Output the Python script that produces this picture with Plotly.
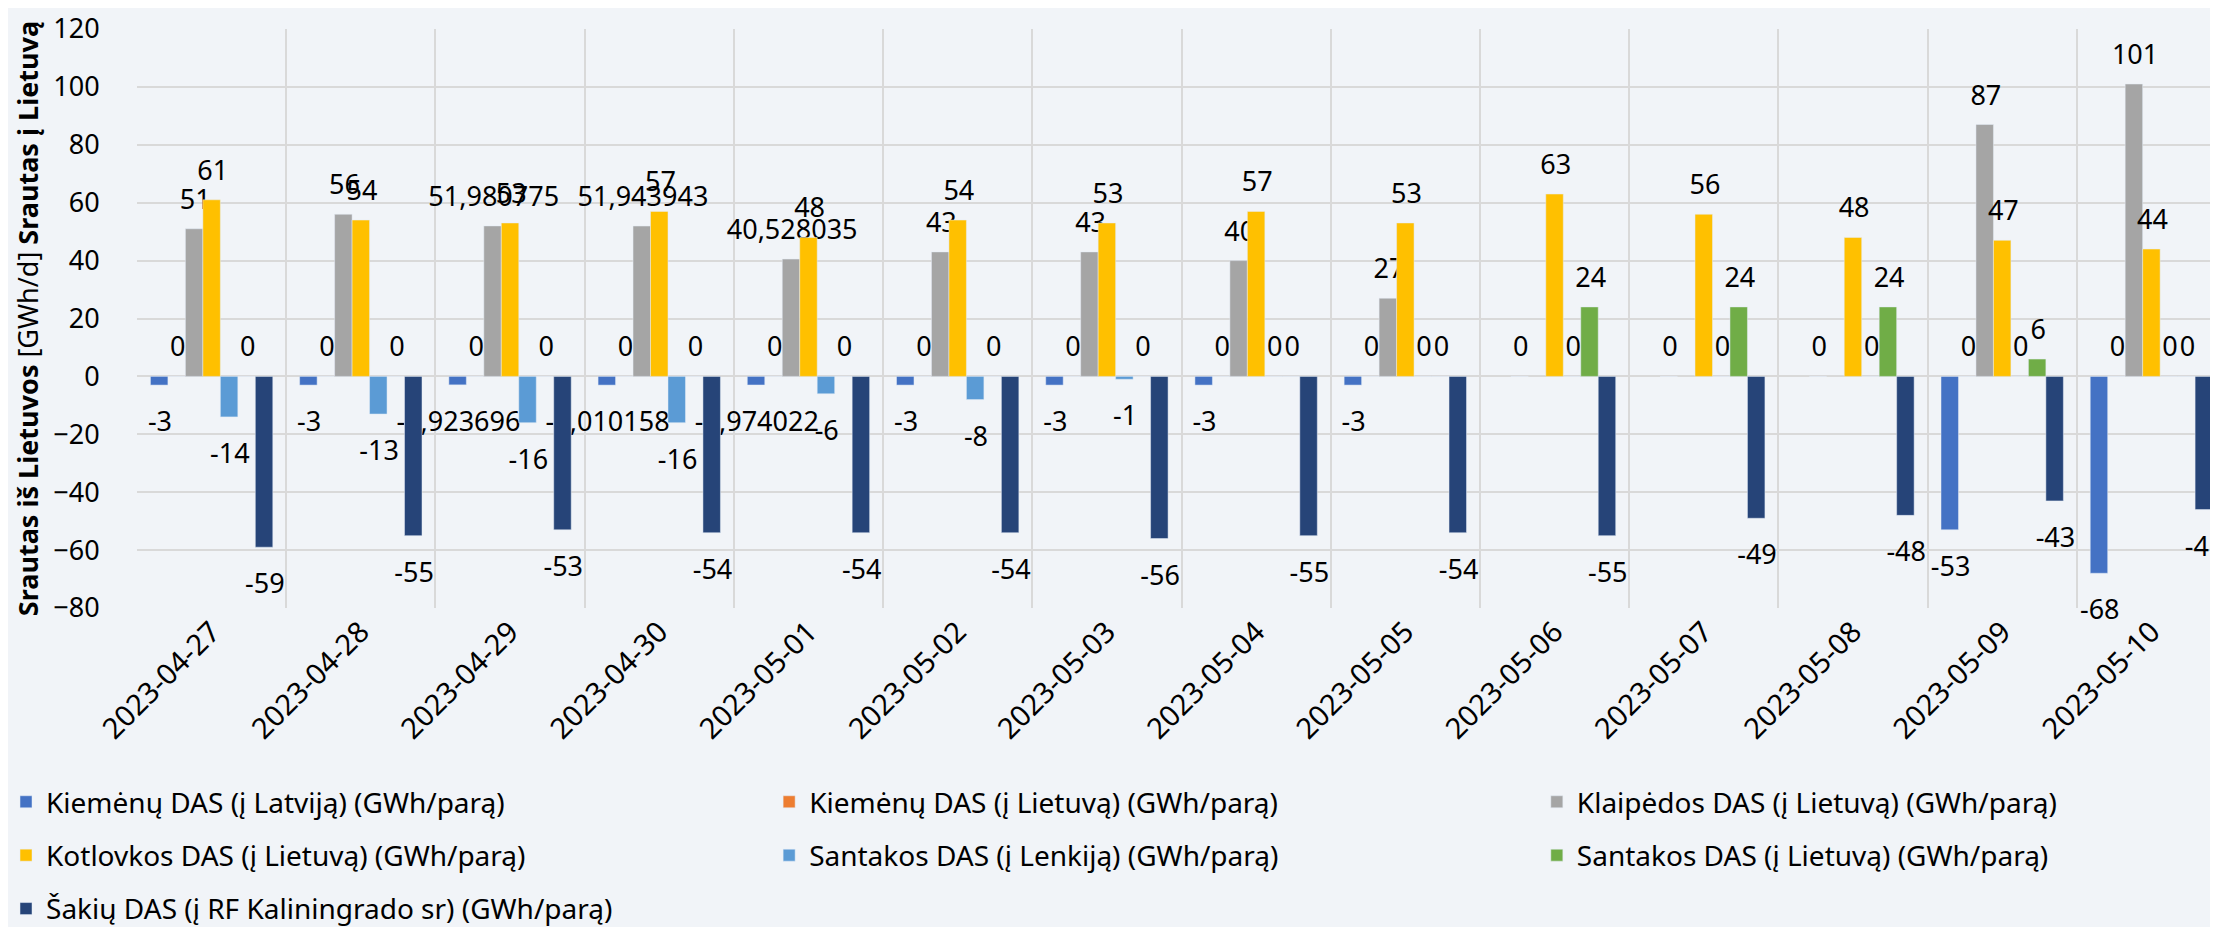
import plotly.graph_objects as go

# Data
dates = ['2023-04-27', '2023-04-28', '2023-04-29', '2023-04-30', '2023-05-01',
         '2023-05-02', '2023-05-03', '2023-05-04', '2023-05-05', '2023-05-06',
         '2023-05-07', '2023-05-08', '2023-05-09', '2023-05-10']

kiemenu_lv = [-3, -3, -2.923696, -3.010158, -2.974022, -3, -3, -3, -3, None, None, None, -53, -68]
kiemenu_lt = [0, 0, 0, 0, 0, 0, 0, 0, 0, 0, 0, 0, 0, 0]
klaipedos = [51, 56, 51.980775, 51.943943, 40.528035, 43, 43, 40, 27, None, None, None, 87, 101]
kotlovkos = [61, 54, 53, 57, 48, 54, 53, 57, 53, 63, 56, 48, 47, 44]
santakos_pl = [-14, -13, -16, -16, -6, -8, -1, 0, 0, 0, 0, 0, 0, 0]
santakos_lt = [0, 0, 0, 0, 0, 0, 0, 0, 0, 24, 24, 24, 6, 0]
sakiu = [-59, -55, -53, -54, -54, -54, -56, -55, -54, -55, -49, -48, -43, -46]

names = ['Kiemėnų DAS (į Latviją) (GWh/parą)',
         'Kiemėnų DAS (į Lietuvą) (GWh/parą)',
         'Klaipėdos DAS (į Lietuvą) (GWh/parą)',
         'Kotlovkos DAS (į Lietuvą) (GWh/parą)',
         'Santakos DAS (į Lenkiją) (GWh/parą)',
         'Santakos DAS (į Lietuvą) (GWh/parą)',
         'Šakių DAS (į RF Kaliningrado sr) (GWh/parą)']
series = [kiemenu_lv, kiemenu_lt, klaipedos, kotlovkos, santakos_pl, santakos_lt, sakiu]
colors = ['#4472C4', '#ED7D31', '#A5A5A5', '#FFC000', '#5B9BD5', '#70AD47', '#264478']
# which legend column each series sits in
legend_ids = ['legend', 'legend2', 'legend3', 'legend', 'legend2', 'legend3', 'legend']


def label(v):
    if v is None:
        return ''
    if float(v).is_integer():
        s = str(int(v))
    else:
        s = str(v).replace('.', ',')
    # a tall, almost zero-width padding span pushes the label a bit further
    # from the bar end, like Excel does
    size = 58 if v >= 0 else 40
    pad = '<span style="font-size:%dpx;letter-spacing:-0.22em">\u00a0</span>' % size
    return pad + s


FONT = 'Noto Sans'

fig = go.Figure()
for i, (name, vals, col) in enumerate(zip(names, series, colors)):
    fig.add_trace(go.Bar(
        x=dates, y=vals, name=name,
        marker_color=col,
        text=[label(v) for v in vals],
        textposition='outside',
        textangle=0,
        constraintext='none',
        cliponaxis=False,
        textfont=dict(family=FONT, size=27, color='#000000'),
        legend=legend_ids[i],
        legendgroup=str(i),
    ))

leg = dict(orientation='v', xanchor='left', yanchor='top', y=-0.292,
           font=dict(family=FONT, size=28, color='#000000'),
           bgcolor='rgba(0,0,0,0)', tracegroupgap=14, itemclick=False)

fig.update_layout(
    width=2218, height=927,
    margin=dict(l=129, r=0, t=21, b=327, autoexpand=False),
    paper_bgcolor='#f1f4f8', plot_bgcolor='#f1f4f8',
    font=dict(family=FONT, size=27, color='#000000'),
    barmode='group', bargap=0.18, bargroupgap=0,
    legend=dict(leg, x=-0.0627),
    legend2=dict(leg, x=0.3026),
    legend3=dict(leg, x=0.6701),
)

fig.update_xaxes(
    type='category', range=[-0.5, len(dates) - 0.5],
    tickson='boundaries', showgrid=True,
    gridcolor='#d9d9d9', gridwidth=2, tickangle=-45,
    ticks='outside', ticklen=30, tickcolor='rgba(0,0,0,0)',
    tickfont=dict(family=FONT, size=29, color='#000000'),
    showline=False, automargin=False,
)
fig.update_yaxes(
    range=[-80, 120], dtick=20, showgrid=True,
    gridcolor='#d9d9d9', gridwidth=2,
    zeroline=True, zerolinecolor='#d9d9d9', zerolinewidth=2,
    ticks='outside', ticklen=31, tickcolor='rgba(0,0,0,0)',
    tickfont=dict(family=FONT, size=27, color='#000000'),
    title=dict(text='<b>Srautas iš Lietuvos</b> [GWh/d] <b>Srautas į Lietuvą</b>',
               font=dict(family=FONT, size=27, color='#000000'), standoff=6),
    automargin=False,
)

fig.write_html('out.html')
